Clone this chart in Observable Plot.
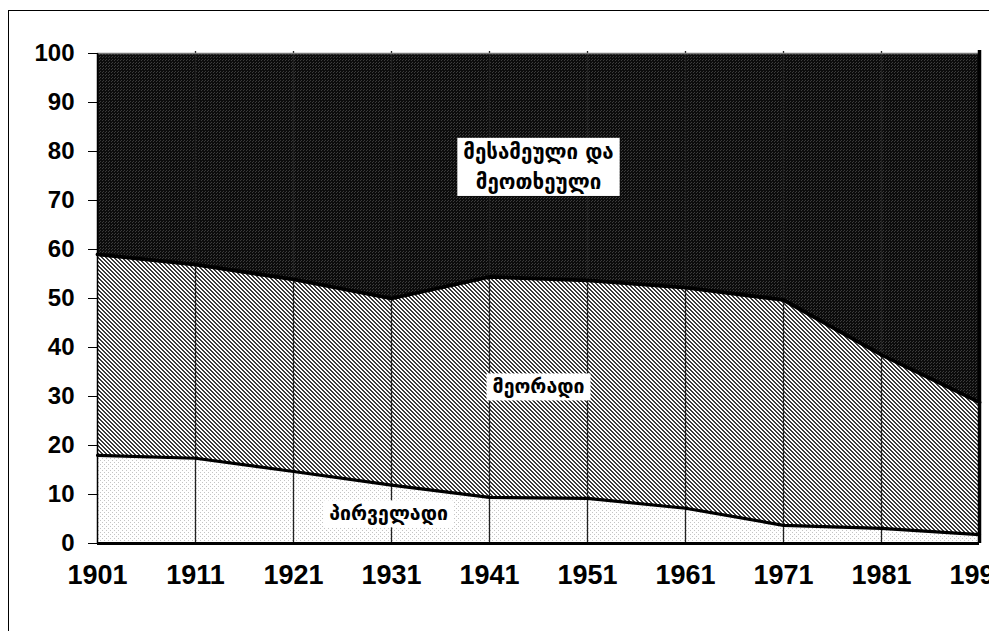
<!DOCTYPE html>
<html>
<head>
<meta charset="utf-8">
<script src="https://cdn.jsdelivr.net/npm/d3@7"></script>
<script src="https://cdn.jsdelivr.net/npm/@observablehq/plot@0.6"></script>
<style>
  html, body { margin: 0; padding: 0; background: #fff; overflow: hidden; }
  #wrap { position: relative; width: 989px; height: 631px; overflow: hidden; }
  #frame { position: absolute; left: 8px; top: 10px; width: 1000px; height: 700px; border: 1.5px solid #000; box-sizing: border-box; pointer-events: none; }
  #chart { position: absolute; left: 0; top: 0; }
</style>
</head>
<body>
<div id="wrap"><div id="frame"></div><div id="chart"></div></div>
<script>
// Census years
const years = [1901, 1911, 1921, 1931, 1941, 1951, 1961, 1971, 1981, 1991];
// Share of each sector (%)
const primary   = [18.0, 17.4, 14.7, 11.9, 9.4, 9.2, 7.2, 3.7, 3.1, 1.8];
const secondary = [41.0, 39.5, 39.2, 38.1, 45.0, 44.5, 45.0, 46.0, 35.4, 27.0];
const tertiary  = [41.0, 43.1, 46.1, 50.0, 45.6, 46.3, 47.8, 50.3, 61.5, 71.2];
const sectors = ["პირველადი", "მეორადი", "მესამეული და მეოთხეული"];
const yTicks = [0, 10, 20, 30, 40, 50, 60, 70, 80, 90, 100];

const series = [primary, secondary, tertiary];
const rows = years.flatMap((yr, i) => sectors.map((s, k) => ({year: yr, sector: s, value: series[k][i]})));
const primLine = years.map((yr, i) => ({year: yr, v: primary[i]}));
const secLine = years.map((yr, i) => ({year: yr, v: primary[i] + secondary[i]}));

const chart = Plot.plot({
  width: 989,
  height: 631,
  marginLeft: 97,
  marginRight: 10,
  marginTop: 53,
  marginBottom: 88,
  style: {fontFamily: "Liberation Sans, Arial, sans-serif", fontWeight: "bold", fontSize: "24px", background: "transparent", color: "#000"},
  x: {domain: [1901, 1991], ticks: years},
  y: {domain: [0, 100], ticks: yTicks},
  color: {domain: sectors, range: ["url(#pPrim)", "url(#pSec)", "url(#pTer)"]},
  marks: [
    Plot.areaY(rows, Plot.stackY({x: "year", y: "value", z: "sector", fill: "sector", order: sectors})),
    Plot.ruleX(years.slice(1, -1), {y1: 0, y2: 100.4, stroke: "#222", strokeWidth: 1.3}),
    Plot.ruleY([100], {stroke: "#777", strokeWidth: 1.5}),
    Plot.lineY(primLine, {x: "year", y: "v", stroke: "#000", strokeWidth: 3.2}),
    Plot.lineY(secLine, {x: "year", y: "v", stroke: "#000", strokeWidth: 3.8}),
    Plot.ruleX([1901], {y1: 0, y2: 100, stroke: "#000", strokeWidth: 1.5}),
    Plot.ruleX([1991], {y1: 0, y2: 100.6, stroke: "#000", strokeWidth: 3.5}),
    Plot.ruleY([0], {x1: 1901, x2: 1991, stroke: "#000", strokeWidth: 3}),
    Plot.axisY({ticks: yTicks, tickSize: 9, tickPadding: 14, stroke: "#000", fontSize: 24, fontWeight: "bold", label: null}),
    Plot.axisX({ticks: years, tickSize: 0, tickPadding: 21, tickFormat: d => String(d), fontSize: 27, fontWeight: "bold", label: null}),
    Plot.text(["მესამეული და\nმეოთხეული"], {x: 1946, y: 77.4, text: d => d, fontFamily: "DejaVu Sans", fontSize: 20.5, fontWeight: "bold", lineHeight: 1.47, fill: "#000"}),
    Plot.text(["მეორადი"], {x: 1946, y: 31.9, text: d => d, fontFamily: "DejaVu Sans", fontSize: 19.5, fontWeight: "bold", fill: "#000"}),
    Plot.text(["პირველადი"], {x: 1930.7, y: 6.0, text: d => d, fontFamily: "DejaVu Sans", fontSize: 19.5, fontWeight: "bold", fill: "#000"})
  ]
});

// Fill patterns
const ns = "http://www.w3.org/2000/svg";
const defs = document.createElementNS(ns, "defs");
function pattern(id, size, bg, fg, cells) {
  const p = document.createElementNS(ns, "pattern");
  p.setAttribute("id", id);
  p.setAttribute("patternUnits", "userSpaceOnUse");
  p.setAttribute("width", size);
  p.setAttribute("height", size);
  const r = document.createElementNS(ns, "rect");
  r.setAttribute("width", size); r.setAttribute("height", size); r.setAttribute("fill", bg);
  p.appendChild(r);
  for (const [x, y] of cells) {
    const c = document.createElementNS(ns, "rect");
    c.setAttribute("x", x); c.setAttribute("y", y); c.setAttribute("width", 1); c.setAttribute("height", 1);
    c.setAttribute("fill", fg); c.setAttribute("shape-rendering", "crispEdges");
    p.appendChild(c);
  }
  defs.appendChild(p);
}
pattern("pPrim", 4, "#ffffff", "#c4c4c4", [[0, 0], [2, 2]]);
const diag = [];
for (let x = 0; x < 4; x++) for (let y = 0; y < 4; y++) { const m = ((x - y) % 4 + 4) % 4; if (m === 0 || m === 1) diag.push([x, y]); }
pattern("pSec", 4, "#ffffff", "#3a3a3a", diag);
pattern("pTer", 3, "#0c0c0c", "#3c3c3c", [[0, 0], [1, 2]]);
chart.insertBefore(defs, chart.firstChild);

document.getElementById("chart").appendChild(chart);

// White boxes behind sector labels
chart.querySelectorAll('g[aria-label="text"] text').forEach(t => {
  const b = t.getBBox();
  const r = document.createElementNS(ns, "rect");
  r.setAttribute("x", b.x - 6); r.setAttribute("y", b.y - 2);
  r.setAttribute("width", b.width + 12); r.setAttribute("height", b.height + 4);
  r.setAttribute("fill", "#fff");
  const tr = t.getAttribute("transform");
  if (tr) r.setAttribute("transform", tr);
  t.parentNode.insertBefore(r, t);
});
</script>
</body>
</html>
